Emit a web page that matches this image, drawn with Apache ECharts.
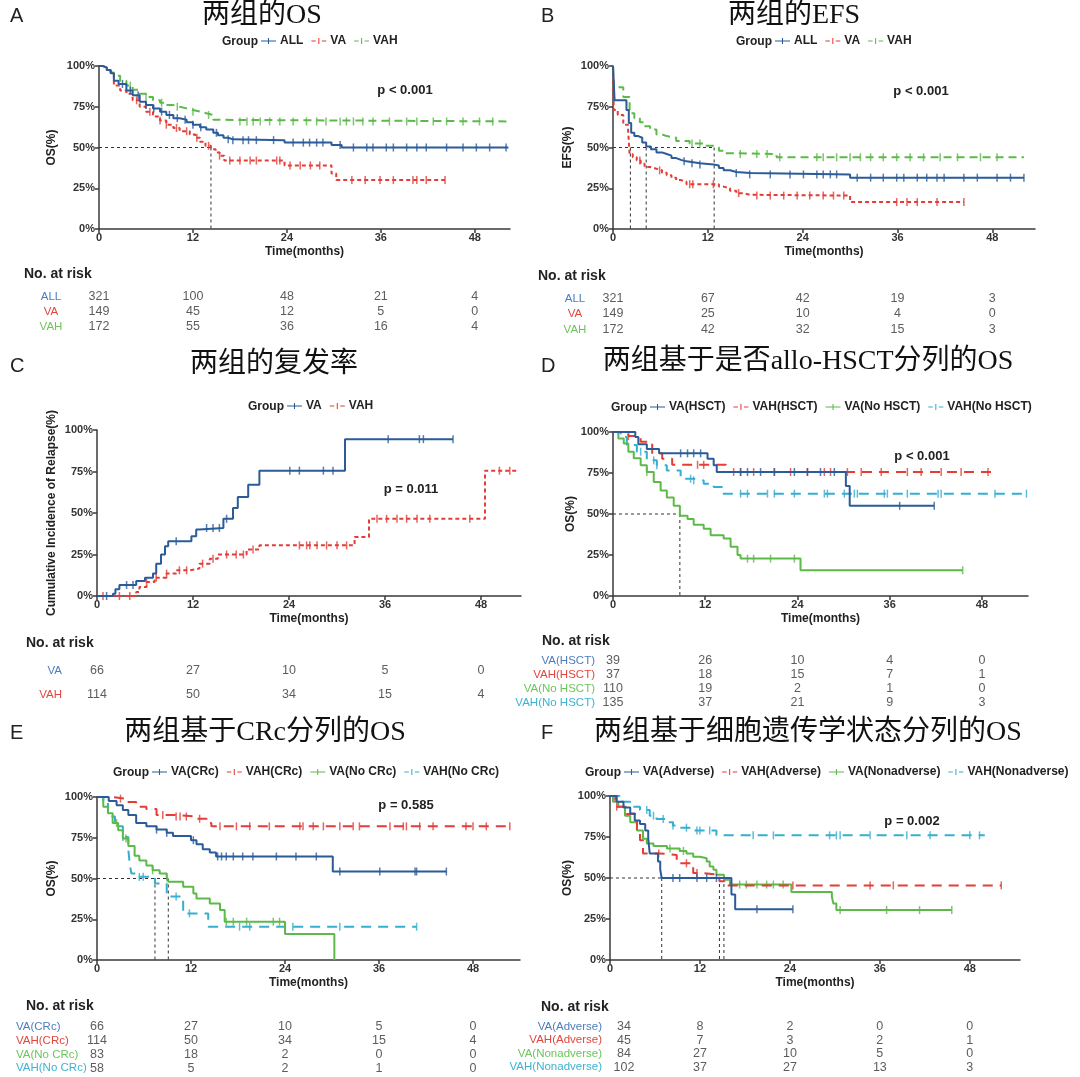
<!DOCTYPE html>
<html><head><meta charset="utf-8">
<script src="https://cdn.jsdelivr.net/npm/echarts@6/dist/echarts.min.js"></script>
<style>html,body{margin:0;padding:0;background:#fff}#c{width:1080px;height:1077px}</style>
</head><body><div id="c"></div>
<script>
// ================= DATA =================
const xTicks = [0, 12, 24, 36, 48];
const riskTimes = [0, 12, 24, 36, 48];

// ---- Panel A: OS ----
const A_title = '两组的OS';
const A_p = 'p < 0.001';
const A_groups = ['ALL', 'VA', 'VAH'];
const A_ALL = [[0,100],[0.5,99],[1,97.5],[1.5,95.5],[1.9,91],[2.5,89],[3.5,85],[4.3,82],[5.2,78],[6,76],[6.9,74],[7.8,72],[8.6,70],[9.5,68],[10.3,67],[11.2,65.5],[12,64],[12.9,62.5],[13.7,61],[14.6,59],[15.2,57.5],[15.9,56],[16.5,55],[17.1,54.5],[23.7,53],[29.7,51.5],[31,50],[52.3,50]];
const A_VA = [[0,100],[0.5,99],[1,97],[1.5,95],[1.9,88],[2.7,85],[3.5,83],[4.3,79],[5.2,75],[6,72],[6.9,69],[7.8,66.5],[8.6,64],[9.5,62],[10.3,60],[11.6,58],[12.3,56],[12.9,53.5],[13.6,51],[14.3,49],[14.9,47],[15.4,45],[16,42],[23.7,39],[29.7,34],[30.3,30],[44.2,30]];
const A_VAH = [[0,100],[0.5,99],[1,98],[1.5,96],[1.9,94],[2.7,91],[3.5,88],[4.3,85.5],[5.2,83],[6,81],[6.9,79],[7.8,77.5],[8.6,76],[9.5,75],[10.3,74],[11.2,73],[12,72],[12.9,71],[13.7,70],[14.6,67],[15,66],[52.3,66]];
const A_ALL_cens = [3,4,5,6,7,8,9,10,11,12,13,15,16.5,17.1,18.4,19.1,20.1,22.3,24.8,26.1,26.9,27.8,28.6,30.8,32.5,34.2,35,36.7,37.6,39.3,40.6,41.8,44.4,46.5,48.2,49.9,52];
const A_VA_cens = [4.8,6.5,7.8,8.6,9.9,11.2,12.5,14,15.4,16.7,18,19.3,20.1,22.7,23.1,24.4,25.7,27,28.2,32.3,34,35.9,37.6,40.1,40.6,41.8,44.2];
const A_VAH_cens = [4,6,8,10,12,14,18,18.9,19.7,20.6,21.8,23.1,24.8,26.5,27.8,29,30.8,31.6,32.5,33.7,35,37.1,39.3,40.6,42.7,44.4,46.5,48.6,50.3];
const A_risk = [[321,100,48,21,4],[149,45,12,5,0],[172,55,36,16,4]];
const A_medians = [14.3];

// ---- Panel B: EFS ----
const B_title = '两组的EFS';
const B_p = 'p < 0.001';
const B_groups = ['ALL', 'VA', 'VAH'];
const B_ALL = [[0,100],[0.2,79],[1.7,73],[2.0,65],[2.3,59],[2.7,57],[3.2,56],[3.7,53],[4.2,50.6],[4.8,49],[5.5,47],[6.2,46],[6.8,45],[7.4,43.5],[8,42.4],[8.6,41.5],[9.3,40.4],[11,39.6],[12.7,39],[13.4,37.5],[14,36],[14.8,35],[15.6,34.3],[17.3,33.5],[30,31.5],[52,31.5]];
const B_VA = [[0,100],[0.1,73],[0.6,70],[1.3,64],[1.9,61.5],[2.1,46],[2.5,44],[3,42],[3.5,40],[4,38],[4.7,37],[5.5,36],[6.2,34.5],[6.8,33],[7.4,31.5],[8,30],[8.6,29],[9.3,27.5],[12.7,27.5],[13.4,26],[14,25],[14.8,23.5],[15.6,22],[16.5,21],[17.3,20.5],[30,16.5],[44.4,16.5]];
const B_VAH = [[0,100],[0.1,87],[1.3,81],[2.1,71],[2.7,68],[3.4,65.5],[4,63],[4.7,61],[5.5,58],[6.2,57],[6.8,56],[8,54],[9.7,52.4],[11.4,51],[12.7,50],[13.4,48],[14,46.5],[15.6,46],[20.7,44],[52,44]];
const B_ALL_cens = [9,10,11,15.6,17.3,19.9,22.4,24.1,25.8,26.6,27.5,28.3,30.9,32.6,34.2,35.9,36.8,38.5,39.7,41,41.9,44.4,46.1,48.6,50.3,52];
const B_VA_cens = [3.4,5.9,9.7,10.1,12.7,15.9,18.2,19.9,21.6,23.3,24.9,26.6,27.9,29.2,35.9,37.2,38.5,41,44.4];
const B_VAH_cens = [10,11,16.1,18.2,19.5,21.1,25.8,26.6,28.3,30,31.3,32.6,34.2,35.9,37.6,39.3,41.4,43.6,46.5,48.6];
const B_risk = [[321,67,42,19,3],[149,25,10,4,0],[172,42,32,15,3]];
const B_medians = [2.2, 4.2, 12.8];

// ---- Panel C: cumulative incidence of relapse ----
const C_title = '两组的复发率';
const C_p = 'p = 0.011';
const C_groups = ['VA', 'VAH'];
const C_VA = [[0,0],[2,1.4],[2.3,4],[2.8,6.6],[4.9,9],[6,11],[7,13.5],[7.4,19.5],[8,25],[8.5,30],[8.9,33],[11.8,36],[12.4,40],[12.8,41],[15.8,46.5],[17,53],[17.6,59.6],[18.9,67],[20.3,75.5],[31,94.5],[44.5,94.5]];
const C_VAH = [[0,0],[4.9,2.4],[5.3,5.4],[6.2,8.5],[7.2,11],[8.7,13.5],[9.9,15.5],[11.6,16.5],[12.8,19.5],[14.1,22.5],[15.1,25],[18.7,28],[20.3,30.5],[32.2,35.6],[34,46.5],[48.5,75.5],[52.6,75.5]];
const C_VA_cens = [1.2,3.7,4.5,9.9,13.7,14.5,15.3,16.2,24.1,25.3,28.3,29.5,36.4,40.3,40.8,44.5];
const C_VAH_cens = [0.75,2.8,4.1,6.2,7.4,8.7,10.3,11.2,13.2,14.5,16.2,17.4,18.3,19.5,25.3,26.2,26.6,27.5,28.7,30,31.2,35,36.2,37.5,38.7,40,41.6,46.6,50.3,51.6];
const C_risk = [[66,27,10,5,0],[114,50,34,15,4]];
const C_medians = [];

// ---- Panel D: OS by allo-HSCT ----
const D_title = '两组基于是否allo-HSCT分列的OS';
const D_p = 'p < 0.001';
const D_groups = ['VA(HSCT)', 'VAH(HSCT)', 'VA(No HSCT)', 'VAH(No HSCT)'];
const D_VA_HSCT = [[0,100],[2.9,97],[3.3,92.5],[4.4,89.6],[6,87],[12.3,83.7],[13.1,79.7],[13.5,75.6],[30.3,67],[30.8,55],[41.8,55]];
const D_VAH_HSCT = [[0,100],[2,97.5],[3.6,94],[5.1,87],[6.4,83.7],[7.7,80],[14.7,75.6],[49.9,75.6]];
const D_VA_NoHSCT = [[0,100],[0.7,96],[1.4,93],[2,88],[2.7,84],[3.6,79.7],[4.4,75.6],[5.3,69.5],[6.2,64.4],[7,60],[7.9,55],[8.7,49],[9.7,47],[10.5,43.5],[11.8,41],[12.7,37],[14.4,35],[15.3,30],[16.2,25],[16.6,22.8],[24.4,15.7],[45.5,15.7]];
const D_VAH_NoHSCT = [[0,100],[1,97],[1.8,92],[3.1,88],[4.4,82.7],[5.7,79.7],[7,76.6],[8.8,71.5],[10.5,70.5],[11.8,68.5],[13.1,66.5],[14.2,62.4],[53.8,62.4]];
const D_VA_HSCT_cens = [8.8,9.7,10.5,11.4,16.6,17.5,19.2,21,23.6,25.3,27,28.8,37.3,41.8];
const D_VAH_HSCT_cens = [2,11,11.8,15.7,16.6,18.3,21,23.1,25.3,27.5,28.3,30.5,32.3,34.9,38.3,40.1,42.7,45.3,48.8];
const D_VA_NoHSCT_cens = [4.4,17.5,18.3,20.5,23.6,45.5];
const D_VAH_NoHSCT_cens = [3.6,5.3,5.7,10.1,10.5,16.6,17.5,20.1,21,23.6,27.5,27.9,30.1,31.4,31.8,35.3,35.7,38.3,42.3,42.7,49.7,53.8];
const D_risk = [[39,26,10,4,0],[37,18,15,7,1],[110,19,2,1,0],[135,37,21,9,3]];
const D_medians = [8.7];

// ---- Panel E: OS by CRc ----
const E_title = '两组基于CRc分列的OS';
const E_p = 'p = 0.585';
const E_groups = ['VA(CRc)', 'VAH(CRc)', 'VA(No CRc)', 'VAH(No CRc)'];
const E_VA_CRc = [[0,100],[1.5,97.5],[2.5,95],[3.3,92],[4,89],[5,84],[6.3,82],[7.6,80],[8.9,78],[9.7,76],[12,73.5],[12.7,71],[13.5,68],[14.4,66],[15.2,63.5],[30.1,54.3],[44.6,54.3]];
const E_VAH_CRc = [[0,100],[1.8,99],[3.7,97],[5,94],[6.3,92.6],[7.6,89],[9.7,88],[12.7,86.7],[14,84],[14.6,82],[52.7,82]];
const E_VA_NoCRc = [[0,100],[0.8,94],[1.4,90],[2,84],[2.7,79.6],[3.3,74.5],[4,70],[4.8,64],[5.4,61],[6.3,58],[7.1,55],[8,53],[8.9,51],[9.1,48],[11,45],[12.3,40.8],[12.7,37.8],[14.4,34.7],[15.7,30.6],[16.3,23.5],[24,16],[30.3,0]];
const E_VAH_NoCRc = [[0,100],[0.8,97],[1.4,88],[2.3,82],[3.3,75.5],[4,67.5],[4.2,58],[4.4,53],[5.4,51],[7.4,47],[8.9,39],[11,28.6],[14.2,20.4],[40.8,20.4]];
const E_VA_CRc_cens = [7.6,8.9,12.3,15.4,15.9,16.5,17.4,18.6,19.9,22.9,25.4,28,31,36.1,40.6,40.8,44.6];
const E_VAH_CRc_cens = [3,8.4,10.1,10.6,11.4,13.1,15.7,17.8,19.5,22,25.9,26.3,27.6,28.9,31,32.7,33.5,37.4,39.1,39.5,41.2,42.9,47.1,48,49.7,52.7];
const E_VA_NoCRc_cens = [2.5,3.7,7.1,8.9,16.5,17.4,19.1,22.5,23.3];
const E_VAH_NoCRc_cens = [3.3,5.4,5.9,10.1,11.8,18.2,19.5,25,31,40.8];
const E_risk = [[66,27,10,5,0],[114,50,34,15,4],[83,18,2,0,0],[58,5,2,1,0]];
const E_medians = [7.4, 9.1];

// ---- Panel F: OS by cytogenetics ----
const F_title = '两组基于细胞遗传学状态分列的OS';
const F_p = 'p = 0.002';
const F_groups = ['VA(Adverse)', 'VAH(Adverse)', 'VA(Nonadverse)', 'VAH(Nonadverse)'];
const F_VA_Adv = [[0,100],[0.9,96.5],[1.8,93],[2.7,89.4],[3.3,85],[4,83],[4.7,79],[5.1,74],[5.3,65],[6.4,60],[6.7,55],[6.9,50],[16.2,40],[16.7,31],[24.4,31]];
const F_VAH_Adv = [[0,100],[0.7,93.5],[2.2,89],[3.6,79],[4,73],[4.4,65],[6.7,64],[8.9,59],[11.1,53],[12.4,52],[14.6,48],[15.3,45.5],[52.2,45.5]];
const F_VA_Non = [[0,100],[0.4,96.5],[1.1,93.5],[2,88],[2.7,84],[3.6,79],[4.4,74],[4.9,71],[5.8,69.5],[7.6,68],[9.3,66.5],[10.2,65],[11.1,63],[12,62],[12.9,60],[13.3,57],[13.8,55],[14.2,52],[15.2,49],[16,46],[24.2,41.5],[29.6,38.6],[29.8,34.5],[30.2,30.5],[45.6,30.5]];
const F_VAH_Non = [[0,100],[1.3,96.5],[2.7,93.5],[4,91.5],[5.3,88],[6.2,86],[7.6,84],[8.4,82],[9.3,80.7],[11.1,79],[14.2,76],[50,76]];
const F_VA_Adv_cens = [8.4,9.3,11.6,12.9,14.2,19.6,24.4];
const F_VAH_Adv_cens = [0.9,6.5,10.2,11.6,24.4,34.7,37.8,52.2];
const F_VA_Non_cens = [8,9.8,17.3,18.2,19.6,20.9,21.8,23.1,30.7,36.9,41.3,45.6];
const F_VAH_Non_cens = [4.9,5.8,7.1,8.4,10.2,11.6,12,13.3,19.1,21.8,29.3,30.2,30.7,34.7,39.6,42.7,48,49.3];
const F_risk = [[34,8,2,0,0],[45,7,3,2,1],[84,27,10,5,0],[102,37,27,13,3]];
const F_medians = [6.9, 14.6, 15.2];

// ================= STYLE / LAYOUT =================
const BLUE = '#2b5b98', RED = '#e43d37', GREEN = '#5cb94a', CYAN = '#36aed0';
const RBLUE = '#4d7dbd', RRED = '#e2463f', RGREEN = '#6cc55a', RCYAN = '#3ab4d2';
const FONT = "'Liberation Sans', Arial, sans-serif";
const TFONT = "'Liberation Serif', 'Noto Sans CJK SC', serif";
const AX = '#3a3a3a';
const D1 = [4,3], D2 = [8,5], D3 = [10,7];

const panels = [
  {key:'A', title:A_title, p:A_p, groups:A_groups, curves:[A_ALL,A_VA,A_VAH], cens:[A_ALL_cens,A_VA_cens,A_VAH_cens], risk:A_risk, medians:A_medians, yName:'OS(%)',
   colors:[BLUE,RED,GREEN], rcolors:[RBLUE,RRED,RGREEN], dashes:['solid',D1,D2],
   grid:{left:99,top:66,width:411,height:163}, xMax:52.5, yNameGap:41,
   rgrid:{top:289,height:45}, ralign:'center', rmargin:48, shift0:0,
   letter:['A',10,16], tpos:[262,16], legY:42, groupX:222, ppos:[405,90], nrisk:[24,274]},
  {key:'B', title:B_title, p:B_p, groups:B_groups, curves:[B_ALL,B_VA,B_VAH], cens:[B_ALL_cens,B_VA_cens,B_VAH_cens], risk:B_risk, medians:B_medians, yName:'EFS(%)',
   colors:[BLUE,RED,GREEN], rcolors:[RBLUE,RRED,RGREEN], dashes:['solid',D1,D2],
   grid:{left:613,top:66,width:422,height:163}, xMax:53.4, yNameGap:39,
   rgrid:{top:291,height:46}, ralign:'center', rmargin:38, shift0:0,
   letter:['B',541,16], tpos:[794,16], legY:42, groupX:736, ppos:[921,91], nrisk:[538,276]},
  {key:'C', title:C_title, p:C_p, groups:C_groups, curves:[C_VA,C_VAH], cens:[C_VA_cens,C_VAH_cens], risk:C_risk, medians:C_medians, yName:'Cumulative Incidence of Relapse(%)',
   colors:[BLUE,RED], rcolors:[RBLUE,RRED], dashes:['solid',D1],
   grid:{left:97,top:430,width:424,height:166}, xMax:53, yNameGap:39,
   rgrid:{top:659,height:48}, ralign:'right', rmargin:35, shift0:0,
   letter:['C',10,366], tpos:[274,365], legY:407, groupX:248, ppos:[411,489], nrisk:[26,643]},
  {key:'D', title:D_title, p:D_p, groups:D_groups, curves:[D_VA_HSCT,D_VAH_HSCT,D_VA_NoHSCT,D_VAH_NoHSCT], cens:[D_VA_HSCT_cens,D_VAH_HSCT_cens,D_VA_NoHSCT_cens,D_VAH_NoHSCT_cens], risk:D_risk, medians:D_medians, yName:'OS(%)',
   colors:[BLUE,RED,GREEN,CYAN], rcolors:[RBLUE,RRED,RGREEN,RCYAN], dashes:['solid',D3,'solid',D3],
   grid:{left:613,top:432,width:415,height:164}, xMax:54, yNameGap:34,
   rgrid:{top:654,height:56}, ralign:'right', rmargin:18, shift0:0,
   letter:['D',541,366], tpos:[808,362], legY:408, groupX:611, ppos:[922,456], nrisk:[542,641]},
  {key:'E', title:E_title, p:E_p, groups:E_groups, curves:[E_VA_CRc,E_VAH_CRc,E_VA_NoCRc,E_VAH_NoCRc], cens:[E_VA_CRc_cens,E_VAH_CRc_cens,E_VA_NoCRc_cens,E_VAH_NoCRc_cens], risk:E_risk, medians:E_medians, yName:'OS(%)',
   colors:[BLUE,RED,GREEN,CYAN], rcolors:[RBLUE,RRED,RGREEN,RCYAN], dashes:['solid',D3,'solid',D3],
   grid:{left:97,top:797,width:423,height:163}, xMax:54, yNameGap:39,
   rgrid:{top:1020,height:55}, ralign:'left', rmargin:81, shift0:0,
   letter:['E',10,733], tpos:[265,733], legY:773, groupX:113, ppos:[406,805], nrisk:[26,1006]},
  {key:'F', title:F_title, p:F_p, groups:F_groups, curves:[F_VA_Adv,F_VAH_Adv,F_VA_Non,F_VAH_Non], cens:[F_VA_Adv_cens,F_VAH_Adv_cens,F_VA_Non_cens,F_VAH_Non_cens], risk:F_risk, medians:F_medians, yName:'OS(%)',
   colors:[BLUE,RED,GREEN,CYAN], rcolors:[RBLUE,RRED,RGREEN,RCYAN], dashes:['solid',D3,'solid',D3],
   grid:{left:610,top:796,width:410,height:164}, xMax:54.7, yNameGap:31,
   rgrid:{top:1020,height:54}, ralign:'right', rmargin:8, shift0:14,
   letter:['F',541,733], tpos:[808,733], legY:773, groupX:585, ppos:[912,821], nrisk:[541,1007]}
];

const ICON_SOLID = 'path://M0,4.3H20V5.7H0Z M9.3,1H10.7V9H9.3Z';
const ICON_DASH = 'path://M0,4.3H6V5.7H0Z M9.3,1H10.7V9H9.3Z M14,4.3H20V5.7H14Z';

function stepAt(curve, t) {
  let v = curve[0][1];
  for (const pt of curve) { if (pt[0] <= t) v = pt[1]; else break; }
  return v;
}

// ================= BUILD =================
const grid = [], xAxis = [], yAxis = [], series = [], legend = [], graphic = [];
const txt = (text, x, y, font, fill, align) => ({
  type:'text', x:x, y:y, silent:true,
  style:{text:text, font:font, fill:fill||'#222', align:align||'left', verticalAlign:'middle', textAlign:align||'left', textVerticalAlign:'middle'}
});

panels.forEach((P) => {
  const gi = grid.length;
  grid.push({left:P.grid.left, top:P.grid.top, width:P.grid.width, height:P.grid.height});
  grid.push({left:P.grid.left, top:P.rgrid.top, width:P.grid.width, height:P.rgrid.height});
  const axStyle = {color:AX, width:1.5};
  xAxis.push({gridIndex:gi, type:'value', min:0, max:P.xMax,
    name:'Time(months)', nameLocation:'middle', nameGap:17,
    nameTextStyle:{fontFamily:FONT, fontWeight:'bold', fontSize:12, color:'#222'},
    axisLine:{show:true, lineStyle:axStyle},
    axisTick:{show:true, length:4, inside:false, customValues:xTicks, lineStyle:axStyle},
    axisLabel:{customValues:xTicks, fontFamily:FONT, fontWeight:'bold', fontSize:11, color:'#333', margin:3},
    splitLine:{show:false}});
  xAxis.push({gridIndex:gi+1, type:'value', min:0, max:P.xMax, show:false});
  yAxis.push({gridIndex:gi, type:'value', min:0, max:100, interval:25,
    name:P.yName, nameLocation:'middle', nameGap:P.yNameGap,
    nameTextStyle:{fontFamily:FONT, fontWeight:'bold', fontSize:12, color:'#222'},
    axisLine:{show:true, lineStyle:axStyle},
    axisTick:{show:true, length:4, lineStyle:axStyle},
    axisLabel:{formatter:'{value}%', fontFamily:FONT, fontWeight:'bold', fontSize:11, color:'#333', margin:4},
    splitLine:{show:false}});
  yAxis.push({gridIndex:gi+1, type:'category', inverse:true, data:P.groups,
    axisLine:{show:false}, axisTick:{show:false}, splitLine:{show:false},
    axisLabel:{interval:0, color:(v) => P.rcolors[P.groups.indexOf(v)], align:P.ralign, margin:P.rmargin, fontFamily:FONT, fontSize:11.5}});

  const xi = gi, yi = gi;
  // median reference lines
  if (P.medians.length) {
    const mMax = Math.max(...P.medians);
    const ref = {type:'line', xAxisIndex:xi, yAxisIndex:yi, symbol:'none', silent:true, z:1,
      lineStyle:{color:'#333', width:1, type:[3,3]}};
    series.push(Object.assign({}, ref, {name:P.key+'|medh', data:[[0,50],[mMax,50]]}));
    P.medians.forEach((m, k) => series.push(Object.assign({}, ref, {name:P.key+'|medv'+k, data:[[m,50],[m,0]]})));
  }
  // curves + censor marks
  P.groups.forEach((g, j) => {
    const nm = P.key + '|' + g;
    series.push({type:'line', name:nm, xAxisIndex:xi, yAxisIndex:yi, data:P.curves[j], step:'end',
      symbol:'none', silent:true, z:3 + (P.groups.length - j),
      lineStyle:{color:P.colors[j], width:2, type:P.dashes[j]}, itemStyle:{color:P.colors[j]}});
    series.push({type:'scatter', name:nm + '|c', xAxisIndex:xi, yAxisIndex:yi,
      data:P.cens[j].map(t => [t, stepAt(P.curves[j], t)]),
      symbol:'rect', symbolSize:[1.5, 8], silent:true, z:3 + (P.groups.length - j),
      itemStyle:{color:P.colors[j]}});
  });
  // risk table numbers
  const rdata = [];
  P.risk.forEach((row, j) => row.forEach((n, k) => {
    const item = {value:[riskTimes[k], j, n]};
    if (k === 0 && P.shift0) item.label = {offset:[P.shift0, 0]};
    rdata.push(item);
  }));
  series.push({type:'scatter', name:P.key+'|risk', xAxisIndex:xi+1, yAxisIndex:yi+1, data:rdata,
    symbol:'circle', symbolSize:1, silent:true, itemStyle:{color:'rgba(0,0,0,0)'},
    label:{show:true, position:'inside', formatter:(p) => String(p.value[2]), fontFamily:FONT, fontSize:12.5, color:'#333'}});

  // legend
  legend.push({left:P.groupX + 39, top:P.legY - 7, padding:0, itemWidth:15, itemHeight:9, itemGap:8,
    selectedMode:false, formatter:(n) => n.split('|')[1],
    textStyle:{fontFamily:FONT, fontWeight:'bold', fontSize:12, color:'#222', padding:[0,0,0,-1]},
    data:P.groups.map((g, j) => ({name:P.key+'|'+g, icon:P.dashes[j] === 'solid' ? ICON_SOLID : ICON_DASH}))});

  // texts
  graphic.push(txt('Group', P.groupX, P.legY, 'bold 12px ' + FONT, '#222'));
  graphic.push(txt(P.letter[0], P.letter[1], P.letter[2], '20px ' + FONT, '#222'));
  graphic.push(txt(P.title, P.tpos[0], P.tpos[1], '28px ' + TFONT, '#111', 'center'));
  graphic.push(txt(P.p, P.ppos[0], P.ppos[1], 'bold 13px ' + FONT, '#222', 'center'));
  graphic.push(txt('No. at risk', P.nrisk[0], P.nrisk[1], 'bold 14px ' + FONT, '#222'));
});

const chart = echarts.init(document.getElementById('c'), null, {renderer:'canvas'});
chart.setOption({animation:false, backgroundColor:'#fff', grid, xAxis, yAxis, series, legend, graphic});
</script></body></html>
